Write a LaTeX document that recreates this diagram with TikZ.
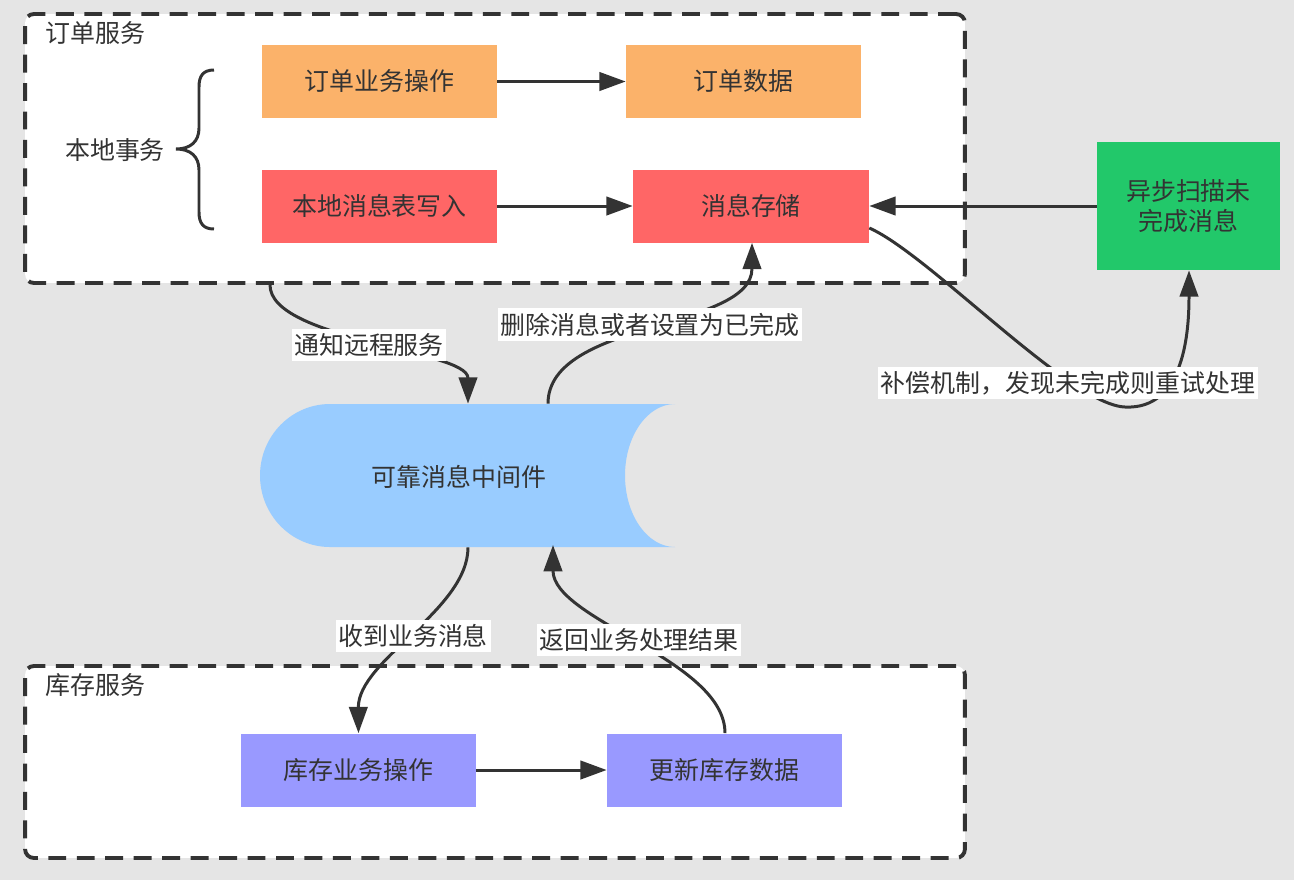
\documentclass[tikz,border=0pt]{standalone}
\usepackage{fontspec}
\setmainfont{Noto Sans CJK SC}
\usetikzlibrary{arrows.meta}
\definecolor{bgc}{HTML}{E5E5E5}
\definecolor{inkc}{HTML}{333333}
\definecolor{orangec}{HTML}{FBB26A}
\definecolor{redc}{HTML}{FF6666}
\definecolor{greenc}{HTML}{22C86A}
\definecolor{bluec}{HTML}{99CCFF}
\definecolor{purplec}{HTML}{9999FF}
\begin{document}
\begin{tikzpicture}[x=0.02cm,y=-0.02cm,
  txt/.style={text=inkc,font=\fontsize{14.2}{17}\selectfont},
  frame/.style={draw=inkc,line width=2.2pt,dash pattern=on 10.2pt off 6pt,rounded corners=5pt,fill=white,minimum width=18.8cm,inner sep=0pt},
  box/.style={txt,minimum width=4.7cm,minimum height=1.46cm,inner sep=0pt},
  conn/.style={draw=inkc,line width=1.7pt,-{Triangle[length=15pt,width=10.5pt]}},
  lbl/.style={txt,fill=white,inner xsep=1.5pt,inner ysep=2.5pt}]
\path[use as bounding box,fill=bgc] (0,0) rectangle (1294,880);

% frames
\node[frame,minimum height=5.38cm] (f1) at (495,148.5) {};
\node[frame,minimum height=3.84cm] (f2) at (495,762) {};
\node[txt,anchor=west,inner sep=0pt] (f1t) at (45,33) {订单服务};
\node[txt,anchor=west,inner sep=0pt] (f2t) at (45,685) {库存服务};

% brace
\node[txt,inner sep=0pt] (lt) at (115,150) {本地事务};
\draw[inkc,line width=1.7pt] (214,70) .. controls (203,70) and (199,76) .. (199,87) -- (199,128)
  .. controls (199,142) and (190,149) .. (176,149) .. controls (190,149) and (199,156) .. (199,170)
  -- (199,212) .. controls (199,223) and (203,229) .. (214,229);

% boxes
\node[box,fill=orangec] (b1) at (379.5,81.5) {订单业务操作};
\node[box,fill=orangec] (b2) at (743.5,81.5) {订单数据};
\node[box,fill=redc] (b3) at (379.5,206) {本地消息表写入};
\node[box,fill=redc,minimum width=4.72cm] (b4) at (751,206) {消息存储};
\node[box,fill=greenc,minimum width=3.66cm,minimum height=2.56cm,align=center,font=\fontsize{14.2}{17.5}\selectfont] (g) at (1188.5,206) {异步扫描未\\完成消息};
\node[box,fill=purplec] (p1) at (358.5,770) {库存业务操作};
\node[box,fill=purplec] (p2) at (724.5,770) {更新库存数据};

% cylinder (message middleware)
\fill[bluec] (330,404) -- (675,404) .. controls (647.4,404) and (625,436) .. (625,475.5)
  .. controls (625,515) and (647.4,547) .. (675,547) -- (330,547)
  .. controls (291.4,547) and (260,515) .. (260,475.5)
  .. controls (260,436) and (291.4,404) .. (330,404) -- cycle;
\node[minimum width=8.3cm,minimum height=2.86cm,inner sep=0pt] (mq) at (467.5,475.5) {};
\node[txt,inner sep=0pt] (mqt) at (459,477) {可靠消息中间件};

% straight connectors
\draw[conn] (b1) -- (b2);
\draw[conn] (b3) -- (b4);
\draw[conn] (g) -- (b4);
\draw[conn] (p1) -- (p2);

% curved connectors
\draw[conn] (f1.south -| 270,0) .. controls (270,340) and (468,350) .. (mq.north -| 468,0)
  node[lbl,pos=0.5] (l1) {通知远程服务};
\draw[conn] (mq.north -| 548,0) .. controls (548,320) and (752,330) .. (b4.south -| 752,0)
  node[lbl,pos=0.5] (l2) {删除消息或者设置为已完成};
\draw[conn] (b4.east |- 0,228) .. controls (930,255) and (1070,405) .. (1125,407)
  .. controls (1185,410) and (1189,330) .. (g.south -| 1189,0);
\node[lbl] (l3) at (1068,383) {补偿机制，发现未完成则重试处理};
\draw[conn] (mq.south -| 468,0) .. controls (468,610) and (358,660) .. (p1.north)
  node[lbl,pos=0.5] (l4) {收到业务消息};
\draw[conn] (p2.north -| 725,0) .. controls (725,660) and (553,620) .. (553,545)
  node[lbl,pos=0.5] (l5) {返回业务处理结果};
\end{tikzpicture}
\end{document}
